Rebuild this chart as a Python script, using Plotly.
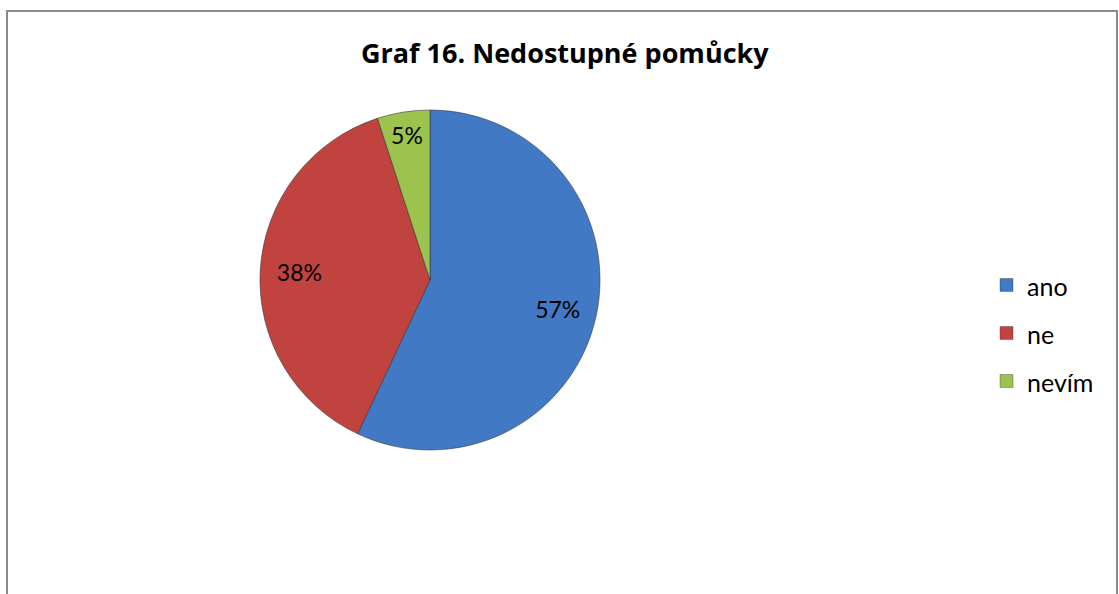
import plotly.graph_objects as go

labels = ["ano", "ne", "nevím"]
values = [57, 38, 5]
colors = ["#4279c4", "#c0433f", "#9bc34e"]
title_text = "Graf 16. Nedostupné pomůcky"

W, H = 1119, 594
FONT = "Lato, Open Sans, sans-serif"
TITLE_FONT = "Open Sans, Lato, sans-serif"
pie_domain = dict(x=[260 / W, 600 / W], y=[1 - 450 / H, 1 - 110 / H])

fig = go.Figure()
# slices
fig.add_trace(go.Pie(
    labels=labels, values=values, sort=False, direction="clockwise", rotation=0,
    marker=dict(colors=colors, line=dict(color="rgba(50,50,50,0.55)", width=1)),
    textinfo="none", domain=pie_domain, showlegend=False,
    hoverinfo="label+percent",
))
# transparent ring overlay that places the percentage labels at ~0.78 R
fig.add_trace(go.Pie(
    labels=labels, values=values, sort=False, direction="clockwise", rotation=0,
    hole=0.54,
    marker=dict(colors=["rgba(0,0,0,0)"] * len(values), line=dict(width=0)),
    texttemplate="%{percent:.0%}", textposition="inside",
    insidetextorientation="horizontal",
    textfont=dict(family=FONT, size=23, color="#000000"),
    domain=pie_domain, showlegend=False, hoverinfo="skip",
))

shapes = [
    dict(type="rect", xref="paper", yref="paper",
         x0=7 / W, x1=1117 / W, y0=-0.05, y1=1 - 11 / H,
         line=dict(color="#8c8c8c", width=2), fillcolor="rgba(0,0,0,0)", layer="above"),
]
annotations = [
    dict(text="<b>" + title_text + "</b>", xref="paper", yref="paper",
         x=565 / W, y=1 - 53 / H, xanchor="center", yanchor="middle",
         showarrow=False, font=dict(family=TITLE_FONT, size=27, color="#000000")),
]
# legend (spacing as in reference)
for i, (lab, col) in enumerate(zip(labels, colors)):
    yc = 285 + i * 48
    shapes.append(dict(type="rect", xref="paper", yref="paper",
                       x0=1000 / W, x1=1013 / W,
                       y0=1 - (yc + 6.5) / H, y1=1 - (yc - 6.5) / H,
                       fillcolor=col, line=dict(color="rgba(50,50,50,0.35)", width=1)))
    annotations.append(dict(text=lab, xref="paper", yref="paper",
                            x=1025 / W, y=1 - (yc + 1) / H, xanchor="left", yanchor="middle",
                            showarrow=False, font=dict(family=FONT, size=25, color="#000000")))

fig.update_layout(
    width=W, height=H,
    margin=dict(l=0, r=0, t=0, b=0),
    paper_bgcolor="#ffffff",
    plot_bgcolor="#ffffff",
    shapes=shapes,
    annotations=annotations,
)

fig.write_html("out.html")
